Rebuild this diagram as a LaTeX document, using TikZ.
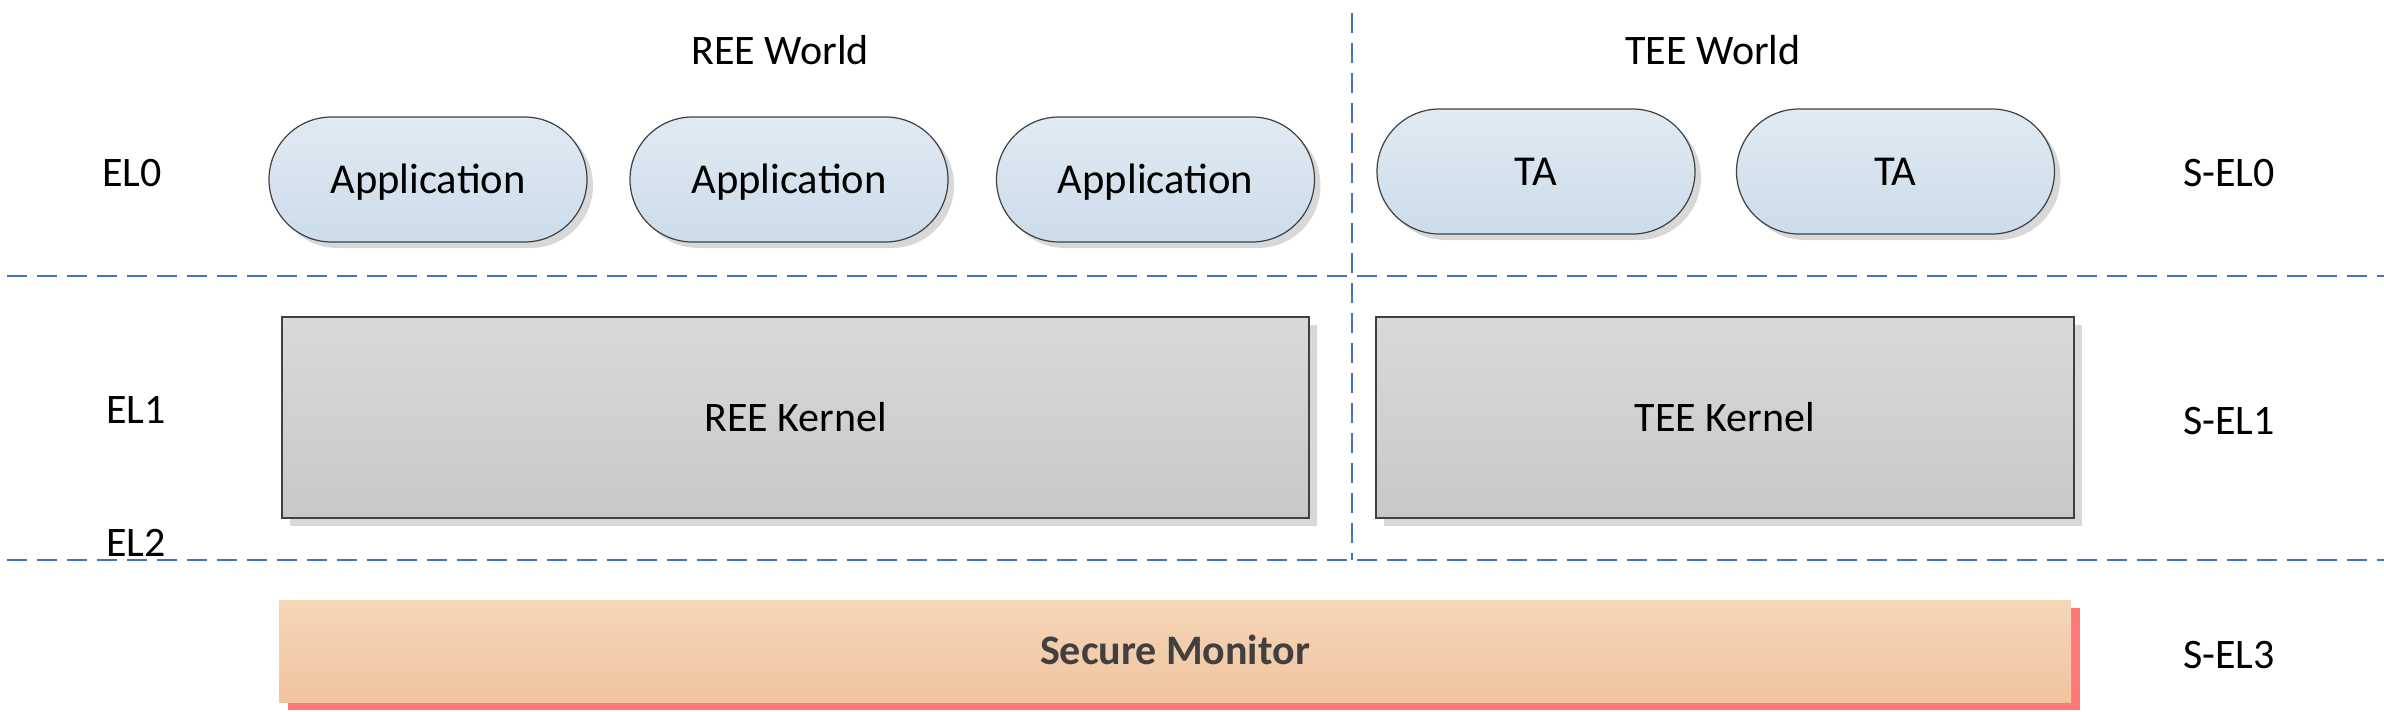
\documentclass[tikz,border=0pt]{standalone}
\usepackage{fontspec}
\setmainfont{Carlito}
\usetikzlibrary{shadows}
\definecolor{dashblue}{HTML}{4472C4}
\definecolor{edgegray}{HTML}{404040}
\tikzset{
  capfix/.style={text height=13.5pt, text depth=0pt},
  lbl/.style={font=\fontsize{21}{25}\selectfont, text=black, inner sep=0pt, capfix},
  pill/.style={draw=edgegray, line width=0.6pt, top color={rgb,255:red,225;green,234;blue,243}, bottom color={rgb,255:red,203;green,220;blue,234},
    minimum width=159pt, minimum height=62.5pt, rounded corners=31.25pt, inner sep=0pt, outer sep=0pt,
    font=\fontsize{21.3}{25}\selectfont, capfix,
    drop shadow={shadow xshift=3pt, shadow yshift=-3pt, fill=black!30, opacity=0.5}},
  kernel/.style={draw=edgegray, line width=0.75pt, top color={rgb,255:red,217;green,217;blue,217}, bottom color={rgb,255:red,200;green,200;blue,200},
    minimum height=100.5pt, inner sep=0pt, outer sep=0pt, font=\fontsize{21}{25}\selectfont, capfix,
    drop shadow={shadow xshift=4pt, shadow yshift=-4pt, fill=black!30, opacity=0.5}},
  monitor/.style={top color={rgb,255:red,246;green,214;blue,186}, bottom color={rgb,255:red,240;green,196;blue,158},
    minimum width=896pt, minimum height=51pt, inner sep=0pt, outer sep=0pt,
    font=\fontsize{21}{25}\selectfont\bfseries, capfix, text={rgb,255:red,64;green,64;blue,64},
    drop shadow={shadow xshift=4.5pt, shadow yshift=-4pt, fill={rgb,255:red,255;green,120;blue,120}, opacity=1}},
  divider/.style={draw=dashblue, line width=1pt, dash pattern=on 10pt off 5pt}
}
\begin{document}
\begin{tikzpicture}[x=0.5pt,y=-0.5pt]
\useasboundingbox (0,0) rectangle (2384,712);
% dividers
\coordinate (h1l) at (7,276);
\coordinate (h1r) at (2384,276);
\coordinate (h2l) at (7,560);
\coordinate (h2r) at (2384,560);
\coordinate (vt) at (1352,13);
\coordinate (vb) at (1352,560);
\draw[divider] (h1l) -- (h1r);
\draw[divider] (h2l) -- (h2r);
\draw[divider] (vt) -- (vb);
% titles
\node[lbl] (ree) at (780,51) {REE World};
\node[lbl] (tee) at (1713,51) {TEE World};
% level labels
\node[lbl] (el0) at (132,173) {EL0};
\node[lbl] (el1) at (136,410) {EL1};
\node[lbl] (el2) at (136,543) {EL2};
\node[lbl] (sel0) at (2229,173) {S-EL0};
\node[lbl] (sel1) at (2229,421) {S-EL1};
\node[lbl] (sel3) at (2229,655) {S-EL3};
% apps
\node[pill] (app1) at (428,179.5) {Application};
\node[pill] (app2) at (789,179.5) {Application};
\node[pill] (app3) at (1155.5,179.5) {Application};
\node[pill] (ta1) at (1536,171.5) {TA};
\node[pill] (ta2) at (1895.5,171.5) {TA};
% kernels
\node[kernel, minimum width=513.5pt] (reek) at (795.5,417.5) {REE Kernel};
\node[kernel, minimum width=349pt] (teek) at (1725,417.5) {TEE Kernel};
% monitor
\node[monitor] (sm) at (1175,651) {Secure Monitor};
\end{tikzpicture}
\end{document}
